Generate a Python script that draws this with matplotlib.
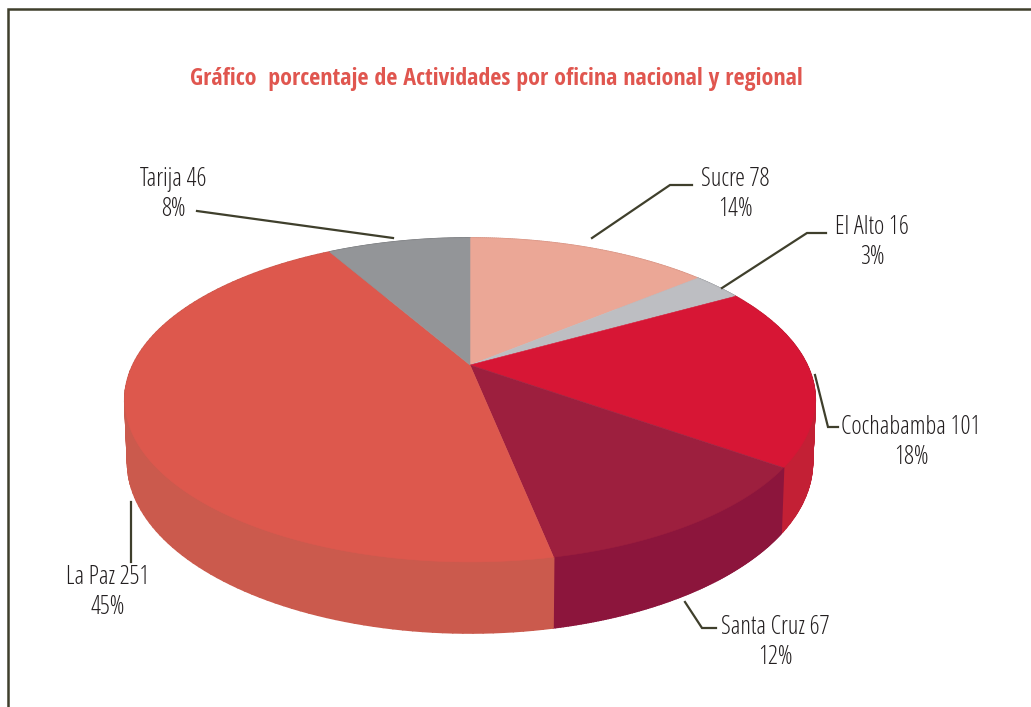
import numpy as np
import matplotlib
matplotlib.use("Agg")
import matplotlib.pyplot as plt
from matplotlib.patches import Polygon
from matplotlib.collections import PolyCollection
from matplotlib.font_manager import FontProperties

# data, clockwise from 12 o'clock
names = ["Sucre", "El Alto", "Cochabamba", "Santa Cruz", "La Paz", "Tarija"]
counts = [78, 16, 101, 67, 251, 46]
percents = [14, 3, 18, 12, 45, 8]
top_colors = ["#EBA796", "#BDBEC2", "#D71635", "#9D1F3E", "#DD584D", "#939598"]
side_colors = ["#D99585", "#A9AAAE", "#C32035", "#8C153C", "#CB5A4D", "#808285"]

title = "Gráfico  porcentaje de Actividades por oficina nacional y regional"
line_color = "#3F3F2C"
text_color = "#231F20"

label_font = FontProperties(family="Open Sans", stretch="condensed", weight=300, size=17.8)
title_font = FontProperties(family="Open Sans Condensed", stretch="condensed", weight=700, size=17.3)


def project(theta):
    # circle -> screen pixels, perspective pie seen from above
    x, y = np.sin(theta), np.cos(theta)
    w = 1 + 0.216 * y
    return 470 + 337 * x / w, 365 - 154.4 * y / w


def project_bottom(theta):
    sx, sy = project(theta)
    return 470 + 0.992 * (sx - 470), sy + 66 + 0.055 * (sy - 471)


fig = plt.figure(figsize=(10.31, 7.07), dpi=100)
ax = fig.add_axes([0, 0, 1, 1])
ax.set_xlim(0, 1031)
ax.set_ylim(707, 0)
ax.axis("off")

edges = np.cumsum([0] + counts) / sum(counts) * 2 * np.pi

# sides first as small quads (rims cross at the far left/right), top faces cover the back half
for i in range(len(counts)):
    t = np.linspace(edges[i], edges[i + 1], 120)
    tx, ty = project(t)
    bx, by = project_bottom(t)
    quads = [[(tx[j], ty[j]), (tx[j + 1], ty[j + 1]), (bx[j + 1], by[j + 1]), (bx[j], by[j])] for j in range(len(t) - 1)]
    ax.add_collection(PolyCollection(quads, facecolors=side_colors[i], edgecolors=side_colors[i], linewidths=1.3, zorder=1))

for i in range(len(counts)):
    t = np.linspace(edges[i], edges[i + 1], 120)
    tx, ty = project(t)
    pts = np.column_stack([np.r_[470, tx], np.r_[365, ty]])
    ax.add_patch(Polygon(pts, closed=True, fc=top_colors[i], ec=top_colors[i], lw=0.4, zorder=2))

# frame
ax.plot([8, 8, 1031], [707, 9, 9], color=line_color, lw=1.8, solid_joinstyle="miter", zorder=3)

ax.text(496.5, 79, title, color="#E0564F", fontproperties=title_font, ha="center", va="center")

# label centre and leader path for each slice
label_pos = [(735, 194), (872, 243), (911, 443), (775, 642), (108, 593), (173, 195)]
leaders = [
    [(592, 238), (670, 185), (692, 185)],
    [(722, 288), (807, 233), (826, 233)],
    [(815, 375), (828, 427), (838, 427)],
    [(685, 602), (702, 628), (716, 628)],
    [(131, 502), (131, 562)],
    [(197, 211), (393, 238)],
]

for i, name in enumerate(names):
    cx, cy = label_pos[i]
    ax.text(cx, cy - 15, f"{name} {counts[i]}", color=text_color, fontproperties=label_font, ha="center", va="center", zorder=4)
    ax.text(cx, cy + 15, f"{percents[i]}%", color=text_color, fontproperties=label_font, ha="center", va="center", zorder=4)
    xs, ys = zip(*leaders[i])
    ax.plot(xs, ys, color=line_color, lw=1.6, solid_joinstyle="miter", zorder=4)

fig.savefig("out.png", dpi=100)
plt.close(fig)
